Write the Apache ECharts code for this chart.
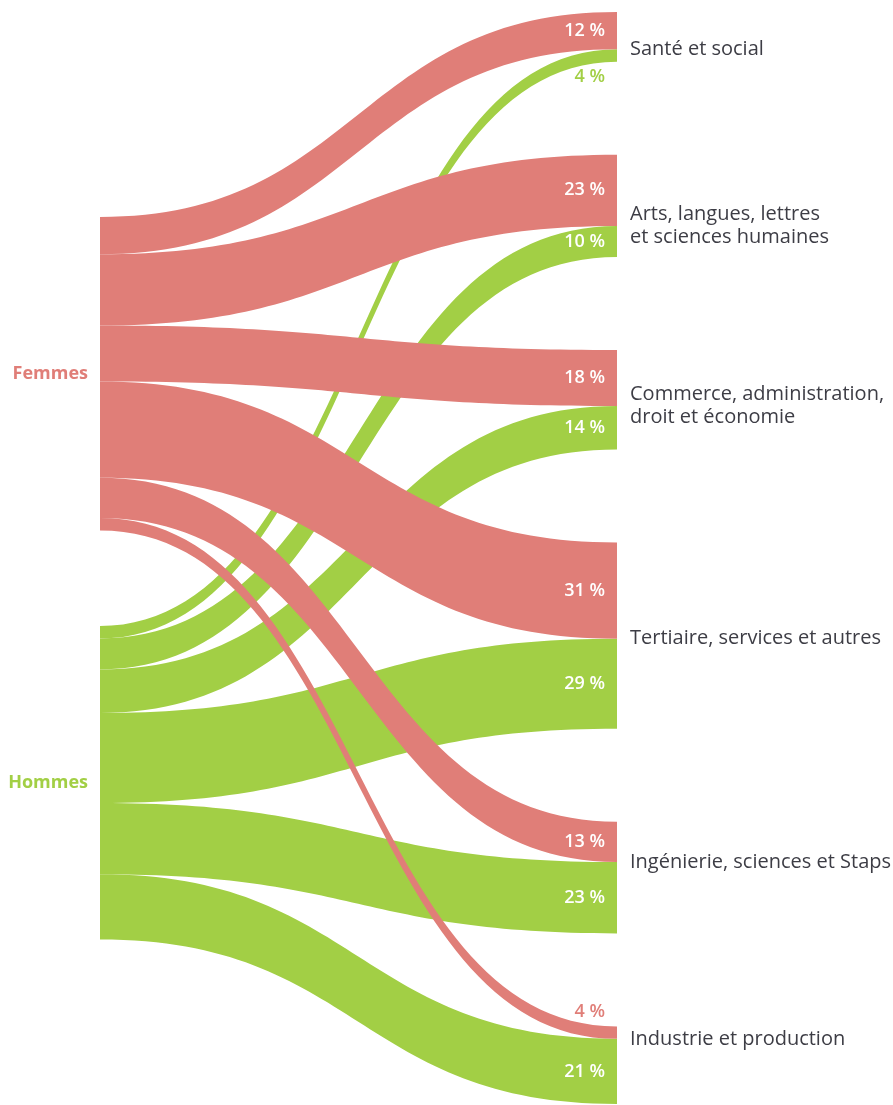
<!DOCTYPE html>
<html>
<head>
<meta charset="utf-8">
<script src="https://cdn.jsdelivr.net/npm/echarts@6/dist/echarts.min.js"></script>
<style>
  html, body { margin: 0; background: #fff; }
  #chart { width: 893px; height: 1105px; }
</style>
</head>
<body>
<div id="chart"></div>
<script>
// données : répartition par filière (en %)
const genres = ["Femmes", "Hommes"];
const filieres = [
  "Santé et social",
  "Arts, langues, lettres\net sciences humaines",
  "Commerce, administration,\ndroit et économie",
  "Tertiaire, services et autres",
  "Ingénierie, sciences et Staps",
  "Industrie et production"
];
const partFemmes = [12, 23, 18, 31, 13, 4];
const partHommes = [4, 10, 14, 29, 23, 21];

// mise en page
const couleurs = { Femmes: "#e07e78", Hommes: "#a2cf45" };
const marge = { top: 12, bottom: 1, left: 100, right: 276 };
const ecart = 93;
const posGenre = { Femmes: 0.1877, Hommes: 0.5623 }; // hauteur relative des noeuds de gauche
const police = "'Open Sans', sans-serif";

const chart = echarts.init(document.getElementById("chart"));
const H = 1105 - marge.top - marge.bottom;
const W = 893 - marge.left - marge.right;
const parts = { Femmes: partFemmes, Hommes: partHommes };
const somme = arr => arr.reduce((a, b) => a + b, 0);
const total = somme(partFemmes) + somme(partHommes);

// même échelle que la mise en page du sankey (colonne la plus serrée)
const ky = Math.min((H - (filieres.length - 1) * ecart) / total, (H - ecart) / total);
let cumul = 0;
const hautFiliere = filieres.map((f, i) => {
  const t = cumul;
  cumul += (partFemmes[i] + partHommes[i]) * ky + ecart;
  return t;
});

const liensParGenre = {};
genres.forEach((g, gi) => {
  let sy = posGenre[g] * H;
  liensParGenre[g] = parts[g].map((v, i) => {
    const dy = v * ky;
    const y1 = sy;
    const y2 = hautFiliere[i] + (gi === 0 ? 0 : partFemmes[i] * ky);
    sy += dy;
    let offY = (y2 - y1) / 2;
    let couleur = "#fff";
    if (dy < 20) {
      // flux trop fin : étiquette à l'extérieur
      couleur = couleurs[g];
      offY += gi === 0 ? -(dy / 2 + 15) : dy / 2 + 15;
    }
    return {
      source: g,
      target: filieres[i],
      value: v,
      edgeLabel: { offset: [W / 2 - 12, offY], color: couleur }
    };
  });
});
// les flux des femmes passent par-dessus ceux des hommes
const links = liensParGenre.Hommes.concat(liensParGenre.Femmes);

const nodes = genres.map(g => ({
  name: g,
  localY: posGenre[g],
  itemStyle: { color: couleurs[g] },
  label: { position: "left", distance: 12, color: couleurs[g], fontWeight: "bold", fontSize: 18 }
})).concat(filieres.map((f, i) => ({
  name: f,
  depth: 1,
  itemStyle: { color: "#ccc" },
  label: {
    position: [13, (partFemmes[i] / (partFemmes[i] + partHommes[i]) * 100) + "%"],
    align: "left",
    verticalAlign: "middle"
  }
})));

const option = {
  animation: false,
  series: [
    {
      type: "sankey",
      top: marge.top,
      bottom: marge.bottom,
      left: marge.left,
      right: marge.right,
      nodeWidth: 0,
      nodeGap: ecart,
      layoutIterations: 0,
      draggable: false,
      emphasis: { disabled: true },
      itemStyle: { borderWidth: 0 },
      lineStyle: { color: "source", opacity: 1, curveness: 0.5 },
      label: {
        show: true,
        fontFamily: police,
        fontSize: 20,
        lineHeight: 23,
        color: "#3d3d45"
      },
      edgeLabel: {
        show: true,
        align: "right",
        verticalAlign: "middle",
        fontFamily: police,
        fontSize: 18,
        fontWeight: 600,
        formatter: p => p.value + " %"
      },
      data: nodes,
      links: links
    }
  ]
};
chart.setOption(option);
</script>
</body>
</html>
